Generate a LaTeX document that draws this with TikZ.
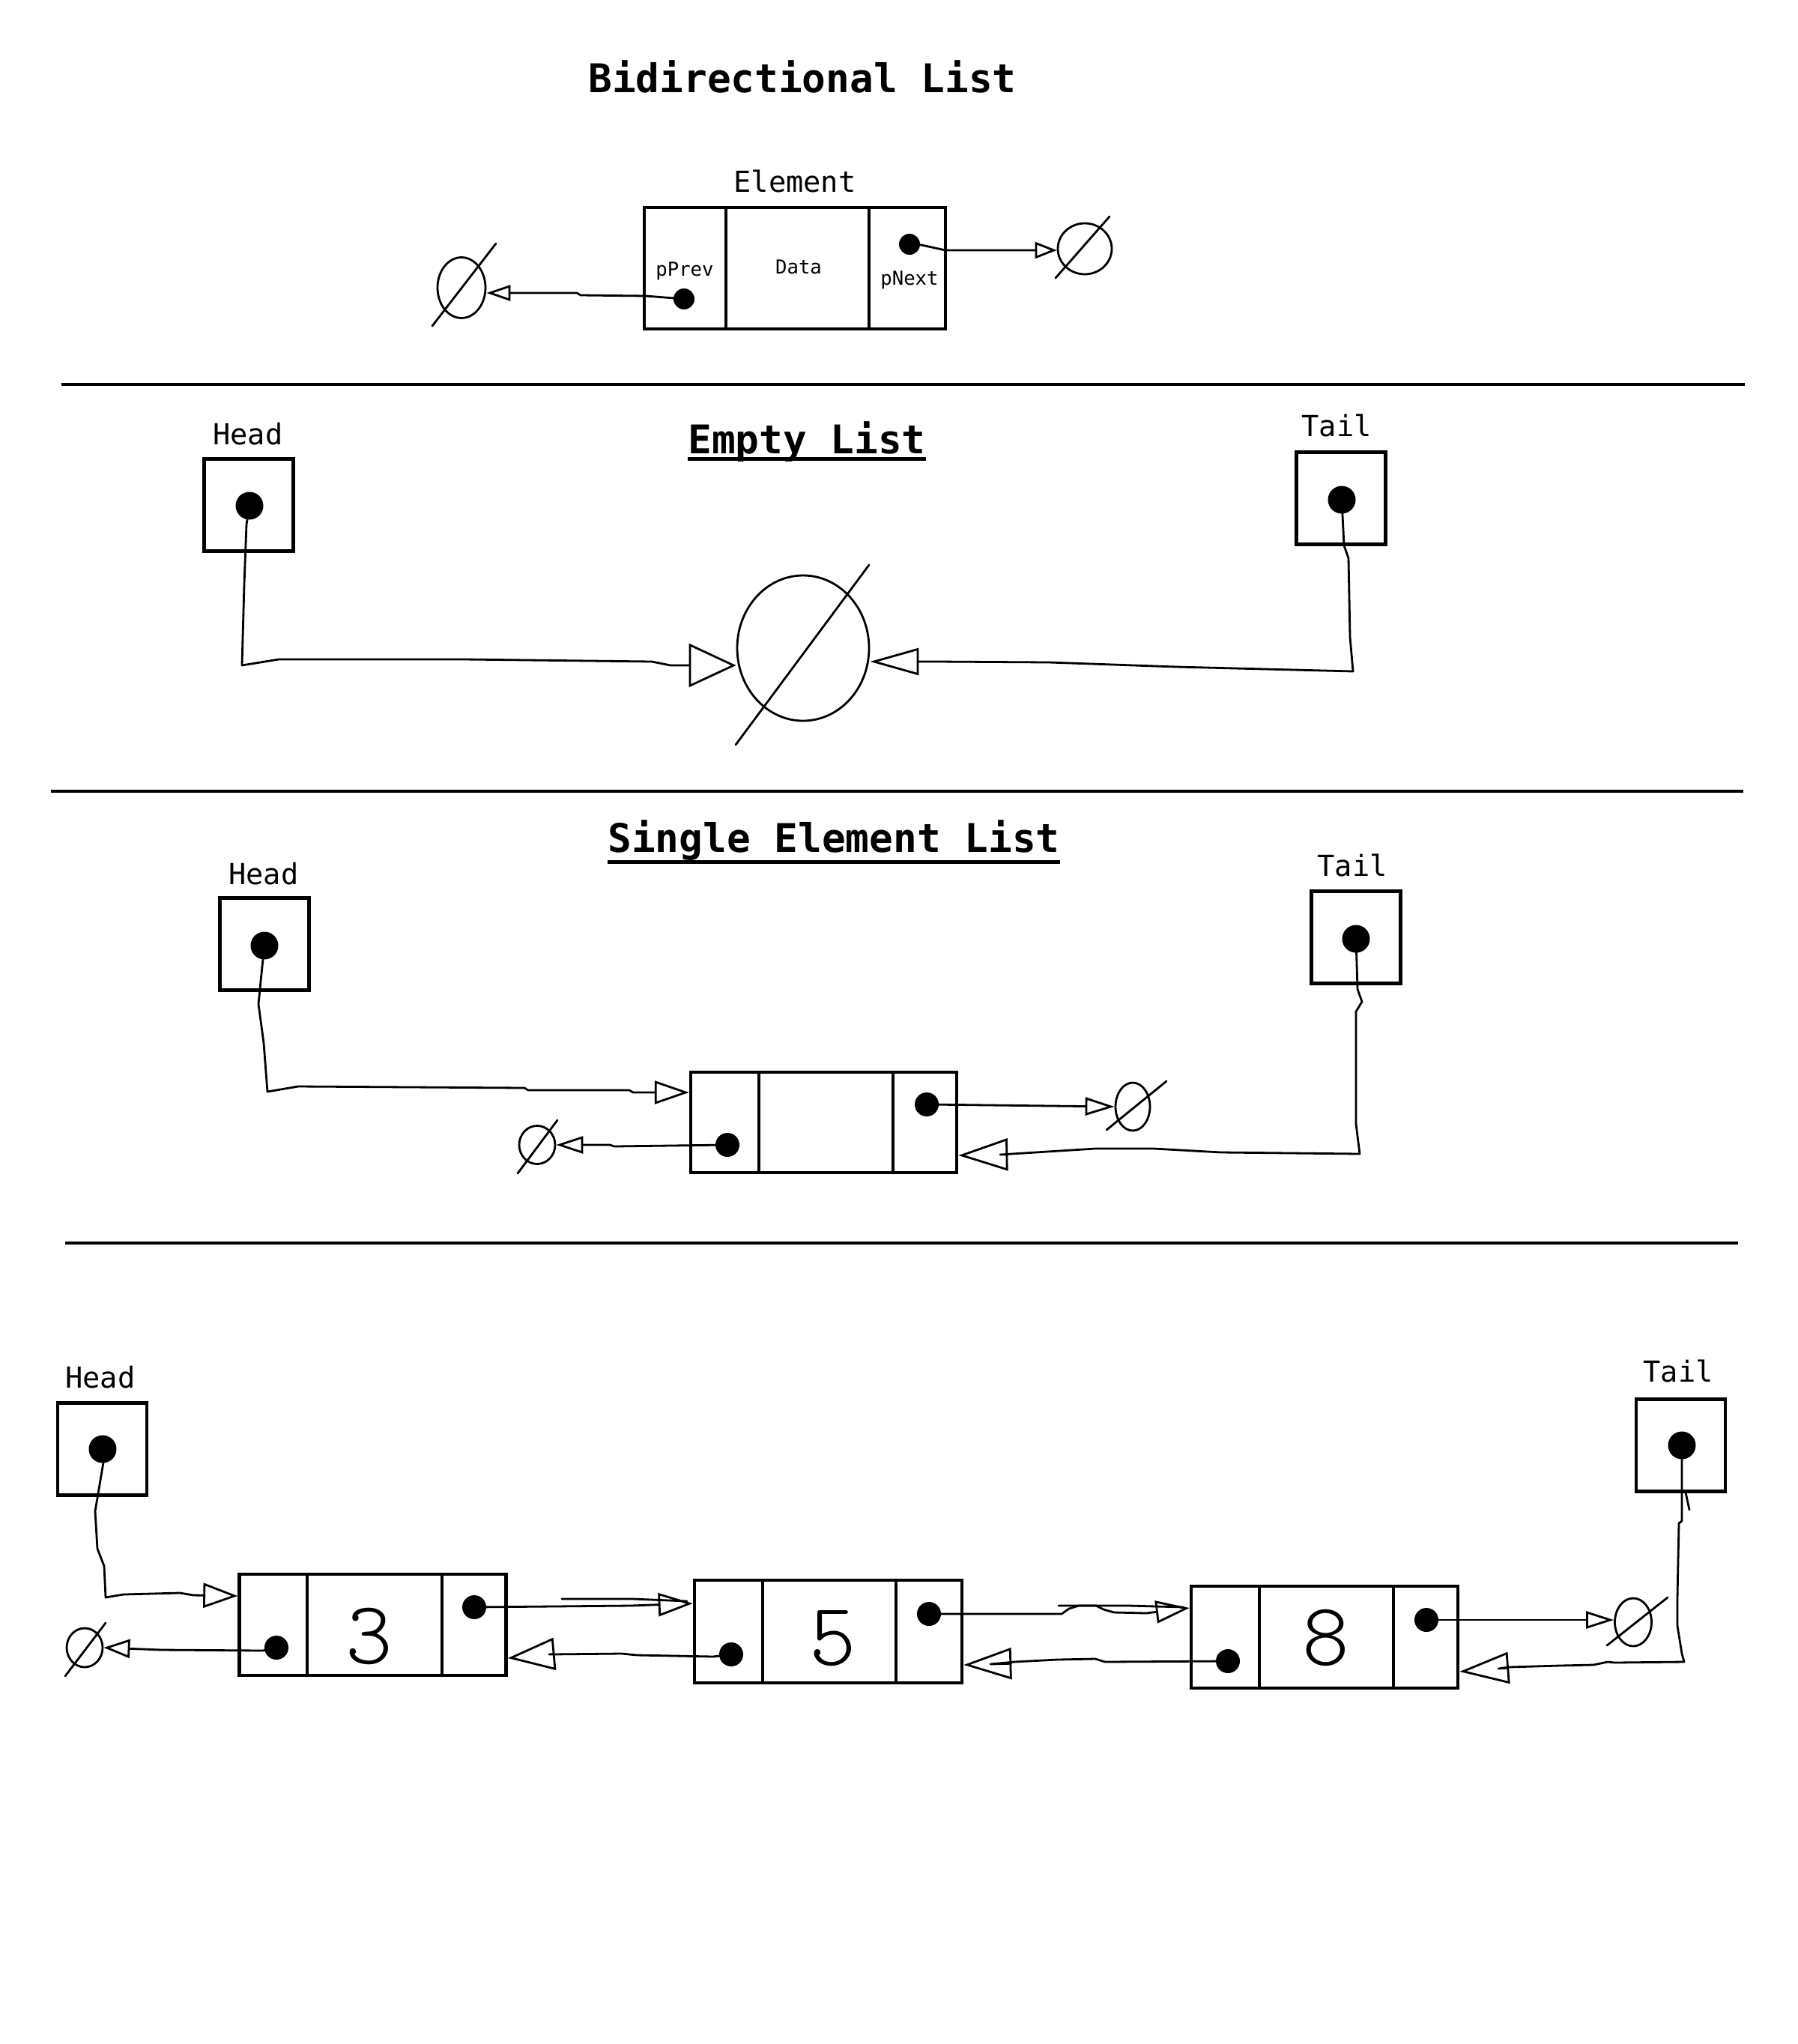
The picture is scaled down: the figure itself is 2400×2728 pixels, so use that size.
\documentclass[tikz,border=0pt]{standalone}
\usepackage{fontspec}
\newfontfamily\djmono{DejaVu Sans Mono}
\usetikzlibrary{arrows.meta,shapes.geometric}
\newcommand\digitfont{\fontfamily{lmtt}\fontseries{l}\fontshape{n}\fontsize{34pt}{34pt}\selectfont}
\tikzset{
  ttl/.style={font=\djmono\bfseries\fontsize{15pt}{18pt}\selectfont, inner sep=0, anchor=base},
  lbl/.style={font=\djmono\fontsize{11pt}{13pt}\selectfont, inner sep=0, anchor=base},
  smalltxt/.style={font=\djmono\fontsize{7.3pt}{9pt}\selectfont, inner sep=0, anchor=base},
  digit/.style={font=\digitfont, inner sep=0, anchor=center},
  ptr/.style={draw, line width=0.45mm, inner sep=0, minimum width=11.9mm, minimum height=12.3mm},
  elem/.style={draw, line width=0.45mm, inner sep=0, minimum width=35.6mm, minimum height=13.5mm},
  bigdot/.style={circle, fill, inner sep=0, minimum size=3.7mm},
  edot/.style={circle, fill, inner sep=0, minimum size=3.2mm},
  sdot/.style={circle, fill, inner sep=0, minimum size=2.8mm},
  cell/.style={line width=0.4mm},
  conn/.style={line width=0.28mm, line join=round, line cap=round},
  nul/.style={ellipse, draw, line width=0.28mm, inner sep=0},
  slash/.style={line width=0.28mm, line cap=round},
  sepline/.style={line width=0.4mm},
  uline/.style={line width=0.5mm},
}
\begin{document}
\begin{tikzpicture}[x=0.1mm,y=-0.1mm]
\useasboundingbox (0,0) rectangle (2400,2728);
\fill[white] (0,0) rectangle (2400,2728);

% ---------- Section 1 ----------
\node[ttl] (t1) at (1071,123) {Bidirectional List};
\node[lbl] (le) at (1061,256) {Element};
\node[elem, minimum width=40.2mm, minimum height=16.2mm] (e0) at (1061,358) {};
\draw[cell] (e0.north -| 969,0) -- (e0.south -| 969,0);
\draw[cell] (e0.north -| 1160,0) -- (e0.south -| 1160,0);
\node[smalltxt] (lp) at (914,368) {pPrev};
\node[smalltxt] (ld) at (1066,365) {Data};
\node[smalltxt] (ln) at (1214,380) {pNext};
\node[sdot] (d0n) at (1214,326) {};
\node[sdot] (d0p) at (913,399) {};
\node[nul, minimum width=7.2mm, minimum height=6.8mm] (n0r) at (1448,332) {};
\draw[slash] (1409,371) -- (1481,289);
\node[nul, minimum width=6.4mm, minimum height=8.1mm] (n0l) at (616,384) {};
\draw[slash] (577,435) -- (662,325);
\draw[conn, -{Triangle[open,length=2.9mm,width=2.2mm]}] (d0n.center) -- (1230,327) -- (1262,334) -- (n0r.west |- 0,334);
\draw[conn, -{Triangle[open,length=3.2mm,width=2.1mm]}] (d0p.center) -- (862,395) -- (775,394) -- (770,391) -- (n0l.east |- 0,391);

\draw[sepline] (82,513) -- (2329,513);

% ---------- Section 2 ----------
\node[ttl] (t2) at (1077,605) {Empty List};
\draw[uline] ([yshift=-0.7mm]t2.base west) -- ([yshift=-0.7mm]t2.base east);
\node[lbl] (lh2) at (331,593) {Head};
\node[ptr] (h2) at (332,674) {};
\node[bigdot] (hd2) at (333,675) {};
\node[lbl] (lt2) at (1784,582) {Tail};
\node[ptr] (tb2) at (1790,665) {};
\node[bigdot] (td2) at (1791,667) {};
\node[nul, minimum width=17.6mm, minimum height=19.4mm] (n2) at (1072,865) {};
\draw[slash] (982,994) -- (1160,754);
\draw[conn, -{Triangle[open,length=6.3mm,width=5.8mm]}] (hd2.center) -- (329,700) -- (326,780) -- (323,888) -- (372,880) -- (620,880) -- (870,883) -- (895,888) -- (n2.west |- 0,888);
\draw[conn, -{Triangle[open,length=6.5mm,width=3.6mm]}] (td2.center) -- (1794,728) -- (1800,745) -- (1802,850) -- (1806,896) -- (1570,890) -- (1400,884) -- (1250,883) -- (n2.east |- 0,883);

\draw[sepline] (68,1056) -- (2327,1056);

% ---------- Section 3 ----------
\node[ttl] (t3) at (1113,1137) {Single Element List};
\draw[uline] ([yshift=-1.3mm]t3.base west) -- ([yshift=-1.3mm]t3.base east);
\node[lbl] (lh3) at (352,1180) {Head};
\node[ptr] (h3) at (353,1260) {};
\node[bigdot] (hd3) at (353,1262) {};
\node[lbl] (lt3) at (1805,1169) {Tail};
\node[ptr] (tb3) at (1810,1251) {};
\node[bigdot] (td3) at (1810,1253) {};
\node[elem, minimum width=35.5mm, minimum height=13.4mm] (es) at (1099.5,1498) {};
\draw[cell] (es.north -| 1013,0) -- (es.south -| 1013,0);
\draw[cell] (es.north -| 1192,0) -- (es.south -| 1192,0);
\node[edot] (esn) at (1237,1474) {};
\node[edot] (esp) at (971,1528) {};
\node[nul, minimum width=4.6mm, minimum height=6.4mm] (n3r) at (1512,1477) {};
\draw[slash] (1477,1508) -- (1557,1443);
\node[nul, minimum width=4.8mm, minimum height=5.1mm] (n3l) at (717,1528) {};
\draw[slash] (691,1566) -- (744,1495);
\draw[conn, -{Triangle[open,length=4.6mm,width=3.1mm]}] (hd3.center) -- (350,1290) -- (345,1340) -- (352,1392) -- (357,1457) -- (398,1450) -- (700,1452) -- (705,1455) -- (840,1455) -- (845,1458) -- (es.west |- 0,1458);
\draw[conn, -{Triangle[open,length=3.9mm,width=2.4mm]}] (esn.center) -- (n3r.west);
\draw[conn, -{Triangle[open,length=3.6mm,width=2.3mm]}] (esp.center) -- (820,1530) -- (814,1528) -- (n3l.east);
\draw[conn, -{Triangle[open,length=6.6mm,width=4.3mm]}] (td3.center) -- (1812,1320) -- (1818,1337) -- (1810,1350) -- (1810,1500) -- (1815,1540) -- (1630,1538) -- (1540,1533) -- (1462,1533) -- (1414,1536) -- (1335,1541) -- (es.east |- 0,1542);

\draw[sepline] (87,1659) -- (2320,1659);

% ---------- Section 4 ----------
\node[lbl] (lh4) at (134,1852) {Head};
\node[ptr] (h4) at (136.5,1934) {};
\node[bigdot] (hd4) at (137,1934) {};
\node[lbl] (lt4) at (2240,1844) {Tail};
\node[ptr] (tb4) at (2243.5,1929) {};
\node[bigdot] (td4) at (2245,1929) {};

\node[elem] (e3) at (497.5,2168.5) {};
\draw[cell] (e3.north -| 410,0) -- (e3.south -| 410,0);
\draw[cell] (e3.north -| 590,0) -- (e3.south -| 590,0);
\node[digit] (v3) at (493,2184) {3};
\node[edot] (e3n) at (633,2145) {};
\node[edot] (e3p) at (369,2199) {};

\node[elem, minimum width=35.7mm, minimum height=13.7mm] (e5) at (1105.5,2177.5) {};
\draw[cell] (e5.north -| 1018,0) -- (e5.south -| 1018,0);
\draw[cell] (e5.north -| 1196,0) -- (e5.south -| 1196,0);
\node[digit] (v5) at (1112,2187) {5};
\node[edot] (e5n) at (1240,2154) {};
\node[edot] (e5p) at (976,2208) {};

\node[elem, minimum height=13.6mm] (e8) at (1768,2185) {};
\draw[cell] (e8.north -| 1681,0) -- (e8.south -| 1681,0);
\draw[cell] (e8.north -| 1860,0) -- (e8.south -| 1860,0);
\node[digit] (v8) at (1770,2186) {8};
\node[edot] (e8n) at (1904,2162) {};
\node[edot] (e8p) at (1639,2217) {};

\node[nul, minimum width=4.8mm, minimum height=5.2mm] (n4l) at (113,2199) {};
\draw[slash] (87,2237) -- (141,2166);
\node[nul, minimum width=4.9mm, minimum height=6.4mm] (n4r) at (2180,2165) {};
\draw[slash] (2145,2196) -- (2226,2132);

\draw[conn, -{Triangle[open,length=4.6mm,width=3.3mm]}] (hd4.center) -- (138,1952) -- (127,2017) -- (130,2067) -- (139,2090) -- (141,2132) -- (165,2128) -- (240,2126) -- (258,2129) -- (e3.west |- 0,2130);
\draw[conn, -{Triangle[open,length=3.5mm,width=2.5mm]}] (e3p.center) -- (351,2203) -- (216,2202) -- (n4l.east);
\draw[conn, -{Triangle[open,length=4.6mm,width=3.1mm]}] (e3n.center) -- (842,2143) -- (e5.west |- 0,2140);
\draw[conn] (750,2134) -- (845,2134) -- (917,2137);
\draw[conn, -{Triangle[open,length=6.3mm,width=4.3mm]}] (e5p.center) -- (952,2211) -- (850,2209) -- (830,2207) -- (733,2208) -- (e3.east |- 0,2213);
\draw[conn, -{Triangle[open,length=4.5mm,width=3.0mm]}] (e5n.center) -- (1417,2154) -- (1427,2147) -- (1440,2143) -- (1463,2143) -- (1473,2148) -- (1487,2152) -- (1530,2153) -- (e8.west |- 0,2146);
\draw[conn] (1413,2143) -- (1507,2143) -- (1580,2145);
\draw[conn, -{Triangle[open,length=6.4mm,width=4.2mm]}] (e8p.center) -- (1475,2218) -- (1462,2214) -- (1411,2215) -- (1354,2218) -- (1322,2221) -- (e5.east |- 0,2222);
\draw[conn, -{Triangle[open,length=3.7mm,width=2.3mm]}] (e8n.center) -- (n4r.west |- 0,2162);
\draw[conn, -{Triangle[open,length=6.6mm,width=4.2mm]}] (td4.center) -- (2245,2030) -- (2241,2033) -- (2239,2133) -- (2239,2170) -- (2245,2207) -- (2248,2218) -- (2155,2219) -- (2146,2218) -- (2127,2222) -- (2082,2223) -- (2014,2225) -- (2000,2227) -- (e8.east |- 0,2231);
\draw[conn] (2250,1992) -- (2255,2015);
\end{tikzpicture}
\end{document}
